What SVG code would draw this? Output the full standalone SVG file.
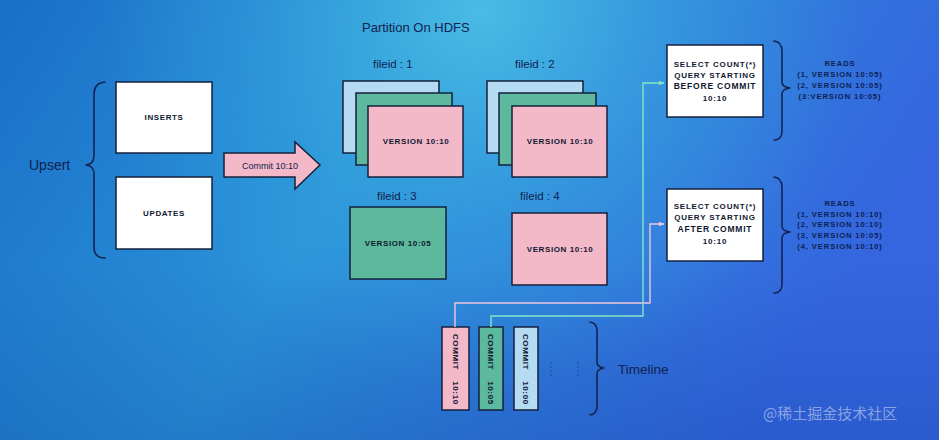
<svg xmlns="http://www.w3.org/2000/svg" width="939" height="440" viewBox="0 0 939 440">
<defs>
<linearGradient id="bg" x1="0" y1="0" x2="1" y2="0.3">
<stop offset="0" stop-color="#1a6fc8"/>
<stop offset="0.45" stop-color="#2a92d8"/>
<stop offset="1" stop-color="#3566df"/>
</linearGradient>
<radialGradient id="glow" cx="480" cy="10" r="380" gradientUnits="userSpaceOnUse">
<stop offset="0" stop-color="#4cc0e6" stop-opacity="0.9"/>
<stop offset="0.6" stop-color="#3aaee0" stop-opacity="0.35"/>
<stop offset="1" stop-color="#3aaee0" stop-opacity="0"/>
</radialGradient>
<linearGradient id="shade" x1="0" y1="0" x2="0" y2="1">
<stop offset="0.6" stop-color="#0a3a9a" stop-opacity="0"/>
<stop offset="1" stop-color="#0a3a9a" stop-opacity="0.25"/>
</linearGradient>
<marker id="ahPink" viewBox="0 0 10 10" refX="9" refY="5" markerWidth="6" markerHeight="6" orient="auto" markerUnits="userSpaceOnUse">
<path d="M0,1 L10,5 L0,9 z" fill="#f0c6df"/>
</marker>
<marker id="ahGreen" viewBox="0 0 10 10" refX="9" refY="5" markerWidth="6" markerHeight="6" orient="auto" markerUnits="userSpaceOnUse">
<path d="M0,1 L10,5 L0,9 z" fill="#84e6c6"/>
</marker>
<style>
.box{stroke:#15203c;stroke-width:1.5}
.white{fill:#ffffff}
.pink{fill:#f4b9c9}
.green{fill:#5db99d}
.blue{fill:#b5dbf3}
.cap{font-family:"Liberation Sans",Arial,sans-serif;font-weight:bold;fill:#101830;text-anchor:middle;letter-spacing:0.6px}
.q{letter-spacing:0.8px}
.hand{font-family:"Liberation Sans",Arial,sans-serif;fill:#13224e}
.reads{font-family:"Liberation Sans",Arial,sans-serif;font-weight:bold;font-size:7.6px;fill:#0c1f52;text-anchor:middle;letter-spacing:0.9px}
.brace{fill:none;stroke:#142452;stroke-width:1.6;stroke-linecap:round;stroke-linejoin:round}
.conn{fill:none;stroke-width:1.4}
</style>
</defs>
<rect width="939" height="440" fill="url(#bg)"/>
<rect width="939" height="440" fill="url(#glow)"/>
<rect width="939" height="440" fill="url(#shade)"/>

<g id="upsert">
<text class="hand" x="29" y="170" font-size="14">Upsert</text>
<path class="brace" d="M105,82 Q94,83 94,94 V156 Q94,164 86,165 Q94,166 94,174 V247 Q94,258 105,258"/>
</g>

<g id="inserts">
<rect class="box white" x="116" y="82" width="96" height="71"/>
<text class="cap" x="164" y="120" font-size="8">INSERTS</text>
</g>

<g id="updates">
<rect class="box white" x="116" y="177" width="96" height="72"/>
<text class="cap" x="164" y="216" font-size="8">UPDATES</text>
</g>

<g id="commit-arrow">
<path class="box pink" d="M224,153 H295 V142 L320,165 L295,189 V177 H224 Z"/>
<text class="hand" x="270" y="169" font-size="9" text-anchor="middle">Commit 10:10</text>
</g>

<g id="partition-title">
<text class="hand" x="362" y="32" font-size="13">Partition On HDFS</text>
</g>

<g id="fileid1">
<text class="hand" x="373" y="68" font-size="11.5">fileid : 1</text>
<rect class="box blue" x="343" y="81" width="96" height="72"/>
<rect class="box green" x="356" y="93" width="96" height="72"/>
<rect class="box pink" x="368" y="106" width="95" height="71"/>
<text class="cap" x="416" y="144" font-size="8">VERSION 10:10</text>
</g>

<g id="fileid2">
<text class="hand" x="515" y="68" font-size="11.5">fileid : 2</text>
<rect class="box blue" x="487" y="81" width="96" height="72"/>
<rect class="box green" x="499" y="93" width="97" height="72"/>
<rect class="box pink" x="512" y="106" width="95" height="71"/>
<text class="cap" x="560" y="144" font-size="8">VERSION 10:10</text>
</g>

<g id="fileid3">
<text class="hand" x="377" y="200" font-size="11.5">fileid : 3</text>
<rect class="box green" x="350" y="207" width="96" height="72"/>
<text class="cap" x="398" y="246" font-size="8">VERSION 10:05</text>
</g>

<g id="fileid4">
<text class="hand" x="520" y="200" font-size="11.5">fileid : 4</text>
<rect class="box pink" x="512" y="213" width="95" height="72"/>
<text class="cap" x="560" y="252" font-size="8">VERSION 10:10</text>
</g>

<g id="query-before">
<rect class="box white" x="667" y="45" width="96" height="72"/>
<text class="cap q" x="715" y="67" font-size="8">SELECT COUNT(*)</text>
<text class="cap q" x="715" y="78" font-size="8">QUERY STARTING</text>
<text class="cap q" x="715" y="89" font-size="8.5">BEFORE COMMIT</text>
<text class="cap q" x="715" y="101" font-size="8">10:10</text>
</g>

<g id="reads-before">
<path class="brace" d="M774,41 Q782,42 782,51 V82 Q782,87 790,88 Q782,89 782,94 V131 Q782,140 774,140"/>
<text class="reads" x="840" y="66">READS</text>
<text class="reads" x="840" y="77">(1, VERSION 10:05)</text>
<text class="reads" x="840" y="88">(2, VERSION 10:05)</text>
<text class="reads" x="840" y="99">(3:VERSION 10:05)</text>
</g>

<g id="query-after">
<rect class="box white" x="667" y="189" width="96" height="72"/>
<text class="cap q" x="715" y="209" font-size="8">SELECT COUNT(*)</text>
<text class="cap q" x="715" y="220" font-size="8">QUERY STARTING</text>
<text class="cap q" x="715" y="232" font-size="8.5">AFTER COMMIT</text>
<text class="cap q" x="715" y="244" font-size="8">10:10</text>
</g>

<g id="reads-after">
<path class="brace" d="M774,177 Q782,178 782,187 V226 Q782,231 790,232 Q782,233 782,238 V284 Q782,293 774,293"/>
<text class="reads" x="840" y="206">READS</text>
<text class="reads" x="840" y="217">(1, VERSION 10:10)</text>
<text class="reads" x="840" y="227">(2, VERSION 10:10)</text>
<text class="reads" x="840" y="238">(3, VERSION 10:05)</text>
<text class="reads" x="840" y="249">(4, VERSION 10:10)</text>
</g>

<g id="commit-1010">
<rect class="box pink" x="442" y="327" width="27" height="83"/>
<text class="cap" font-size="8" transform="translate(452.5,352) rotate(90)">COMMIT</text>
<text class="cap" font-size="8" transform="translate(452.5,393) rotate(90)">10:10</text>
</g>

<g id="commit-1005">
<rect class="box green" x="479" y="327" width="24" height="83"/>
<text class="cap" font-size="8" transform="translate(488,352) rotate(90)">COMMIT</text>
<text class="cap" font-size="8" transform="translate(488,393) rotate(90)">10:05</text>
</g>

<g id="commit-1000">
<rect class="box blue" x="514" y="327" width="24" height="83"/>
<text class="cap" font-size="8" transform="translate(523,352) rotate(90)">COMMIT</text>
<text class="cap" font-size="8" transform="translate(523,393) rotate(90)">10:00</text>
</g>

<g id="timeline">
<path d="M551,362 V378 M578,362 V378" stroke="#0f2a60" stroke-width="1.2" stroke-dasharray="1.2,3" fill="none" opacity="0.7"/>
<path class="brace" d="M590,322 Q597,323 597,331 V362 Q597,367 604,368 Q597,369 597,374 V406 Q597,414 590,415"/>
<text class="hand" x="618" y="374" font-size="13.5">Timeline</text>
</g>

<g id="connectors">
<path class="conn" d="M455,327 V303 H650 V224 H664" stroke="#f0c6df" marker-end="url(#ahPink)"/>
<path class="conn" d="M491,327 V316 H643 V83 H664" stroke="#84e6c6" marker-end="url(#ahGreen)"/>
</g>

<text x="763" y="419" font-family="'Noto Sans CJK SC',sans-serif" font-size="15" fill="#ffffff" fill-opacity="0.45">@稀土掘金技术社区</text>
</svg>
